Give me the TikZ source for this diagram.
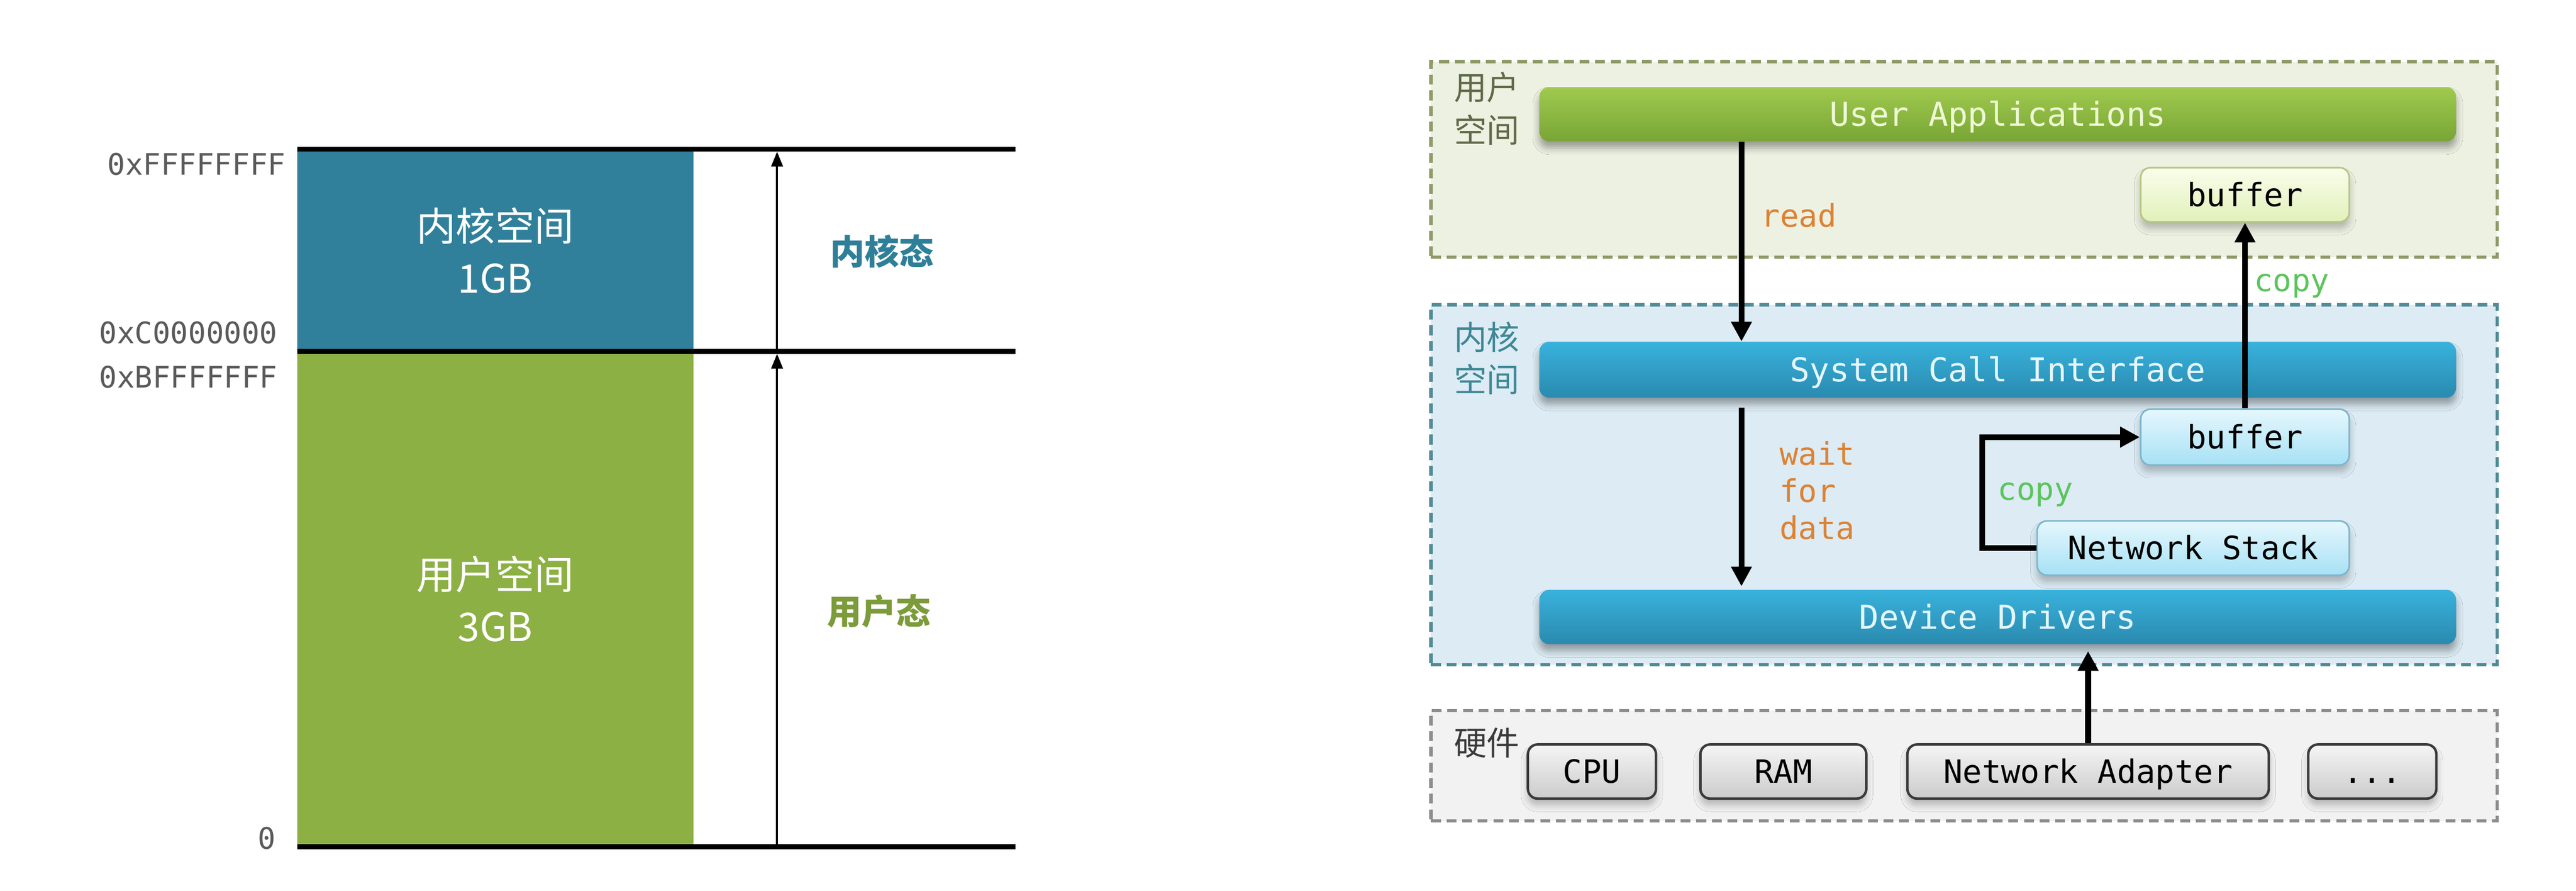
\documentclass[tikz,border=0pt]{standalone}
\usepackage{fontspec}
\setmainfont{Noto Sans CJK SC}
\setmonofont{DejaVu Sans Mono}
\usetikzlibrary{arrows.meta,shadows,shadows.blur}

\definecolor{kblue}{HTML}{31809B}
\definecolor{ugreen}{HTML}{8CB043}
\definecolor{kstate}{HTML}{2F7F99}
\definecolor{ustate}{HTML}{7C9B3A}
\definecolor{hexgray}{HTML}{5A5A5A}
\definecolor{usfill}{HTML}{EDF1E2}
\definecolor{usdraw}{HTML}{8E9A68}
\definecolor{uslabel}{HTML}{5E6A48}
\definecolor{ksfill}{HTML}{DCEBF4}
\definecolor{ksdraw}{HTML}{4F8A96}
\definecolor{kslabel}{HTML}{3F8795}
\definecolor{hwfill}{HTML}{F2F2F2}
\definecolor{hwdraw}{HTML}{8C8C8C}
\definecolor{hwlabel}{HTML}{3A3A3A}
\definecolor{gbartop}{HTML}{A0CA4E}
\definecolor{gbarbot}{HTML}{78A536}
\definecolor{gbartext}{HTML}{EEF8D4}
\definecolor{bbartop}{HTML}{38B2DC}
\definecolor{bbarbot}{HTML}{2A8AAF}
\definecolor{bbartext}{HTML}{E4F6FC}
\definecolor{ubuftop}{HTML}{FAFDEB}
\definecolor{ubufbot}{HTML}{E0F1BA}
\definecolor{ubufdraw}{HTML}{B6C684}
\definecolor{kboxtop}{HTML}{E6F7FD}
\definecolor{kboxbot}{HTML}{A6E1F5}
\definecolor{kboxdraw}{HTML}{7DB6CD}
\definecolor{hwtop}{HTML}{F5F5F5}
\definecolor{hwbot}{HTML}{CBCBCB}
\definecolor{hwborder}{HTML}{3A3A3A}
\definecolor{readcol}{HTML}{DD8233}
\definecolor{copycol}{HTML}{5CC45C}

\begin{document}
\begin{tikzpicture}[x=1pt,y=-1pt,
  hexlabel/.style={font=\ttfamily\fontsize{18}{18}\selectfont, text=hexgray, inner sep=0pt},
  memblock/.style={inner sep=0pt, minimum width=241pt, text=white, align=center,
    font=\fontsize{24}{31.5}\selectfont},
  hline/.style={line width=3pt, black},
  thinarr/.style={line width=1.2pt, -{Triangle[length=9pt,width=7pt]}, shorten >=1.5pt},
  statelabel/.style={font=\bfseries\fontsize{21}{21}\selectfont, inner sep=0pt},
  region/.style={dash pattern=on 6pt off 3.5pt, line width=2pt, minimum width=649pt, inner sep=0pt},
  regionlabel/.style={align=left, font=\fontsize{20}{26}\selectfont, inner sep=0pt},
  bar/.style={rounded corners=6pt, minimum width=558pt, minimum height=33pt, inner sep=0pt,
    text height=14.5pt, text depth=0pt,
    font=\ttfamily\fontsize{20}{20}\selectfont,
    blur shadow={shadow xshift=0pt, shadow yshift=-4pt, shadow blur radius=4pt, shadow opacity=35}},
  smallbox/.style={rounded corners=6pt, minimum height=33pt, inner sep=0pt, draw, line width=1pt,
    text height=14pt, text depth=0pt,
    font=\ttfamily\fontsize{19.5}{19.5}\selectfont, text=black,
    blur shadow={shadow xshift=0pt, shadow yshift=-4pt, shadow blur radius=4pt, shadow opacity=25}},
  kbox/.style={smallbox, draw=kboxdraw, top color=kboxtop, bottom color=kboxbot},
  hwbox/.style={smallbox, draw=hwborder, line width=1.5pt, top color=hwtop, bottom color=hwbot},
  arr/.style={line width=3.5pt, -{Triangle[length=12pt,width=12pt]}},
  flowlabel/.style={font=\ttfamily\fontsize{19}{22.5}\selectfont, inner sep=0pt}
]
\useasboundingbox (0,0) rectangle (1568,542);
\fill[white] (0,0) rectangle (1568,542);

% ---------------- left: address space ----------------
\node[memblock, fill=kblue, minimum height=123pt] (kern) at (301.5,152.5) {内核空间\\1GB};
\node[memblock, fill=ugreen, minimum height=301pt] (user) at (301.5,364.5) {用户空间\\3GB};

\coordinate (rend) at (618,0);
\coordinate (ax) at (473,0);
\draw[hline] (kern.north west) -- (kern.north west -| rend);
\draw[hline] (user.north west) -- (user.north west -| rend);
\draw[hline] (user.south west) -- (user.south west -| rend);

\draw[thinarr] (user.south -| ax) -- (user.north -| ax);
\draw[thinarr] (kern.south -| ax) -- (kern.north -| ax);

\node[hexlabel, anchor=east] (hf) at (174,100) {0xFFFFFFFF};
\node[hexlabel, anchor=east] (hc) at (169,202.5) {0xC0000000};
\node[hexlabel, anchor=east] (hb) at (169,229.5) {0xBFFFFFFF};
\node[hexlabel, anchor=east] (hz) at (168,510) {0};

\node[statelabel, text=kstate] (kst) at (537,153) {内核态};
\node[statelabel, text=ustate] (ust) at (535,372) {用户态};

% ---------------- right: I/O path ----------------
\node[region, draw=usdraw, fill=usfill, minimum height=119pt] (us) at (1195.5,97) {};
\node[region, draw=ksdraw, fill=ksfill, minimum height=219pt] (ks) at (1195.5,295) {};
\node[region, draw=hwdraw, fill=hwfill, minimum height=67pt] (hw) at (1195.5,466) {};

\node[regionlabel, text=uslabel] (usl) at (905,66) {用户\\空间};
\node[regionlabel, text=kslabel] (ksl) at (905,218) {内核\\空间};
\node[regionlabel, text=hwlabel] (hwl) at (905,452) {硬件};

\node[bar, top color=gbartop, bottom color=gbarbot, text=gbartext] (ua) at (1216,69.5) {User Applications};
\node[bar, top color=bbartop, bottom color=bbarbot, text=bbartext, minimum height=34pt] (sci) at (1216,225) {System Call Interface};
\node[bar, top color=bbartop, bottom color=bbarbot, text=bbartext] (dd) at (1216,375.5) {Device Drivers};

\node[smallbox, draw=ubufdraw, top color=ubuftop, bottom color=ubufbot, minimum width=127pt] (ubuf) at (1366.5,118.5) {buffer};
\node[kbox, minimum width=127pt, minimum height=34pt] (kbuf) at (1366.5,266) {buffer};
\node[kbox, minimum width=190pt] (ns) at (1335,333.5) {Network Stack};

\node[hwbox, minimum width=78pt] (cpu) at (969,469.5) {CPU};
\node[hwbox, minimum width=101pt] (ram) at (1085.5,469.5) {RAM};
\node[hwbox, minimum width=220pt] (na) at (1271,469.5) {Network Adapter};
\node[hwbox, minimum width=78pt] (etc) at (1444,469.5) {...};

\coordinate (rx) at (1060,0);
\draw[arr] (ua.south -| rx) -- (sci.north -| rx);
\draw[arr, shorten <=6pt, shorten >=2pt] (sci.south -| rx) -- (dd.north -| rx);
\draw[arr] (kbuf.north) -- (kbuf.north |- ubuf.south);
\draw[arr] (ns.west) -- ++(-33,0) |- (kbuf.west);
\draw[arr, shorten >=4pt] (na.north) -- (na.north |- dd.south);

\node[flowlabel, text=readcol] (lread) at (1095,131) {read};
\node[flowlabel, text=copycol] (lcopy1) at (1395,174) {copy};
\node[flowlabel, text=readcol, align=left, anchor=west] (lwait) at (1083,298.5) {wait\\for\\data};
\node[flowlabel, text=copycol] (lcopy2) at (1239,301) {copy};
\end{tikzpicture}
\end{document}
